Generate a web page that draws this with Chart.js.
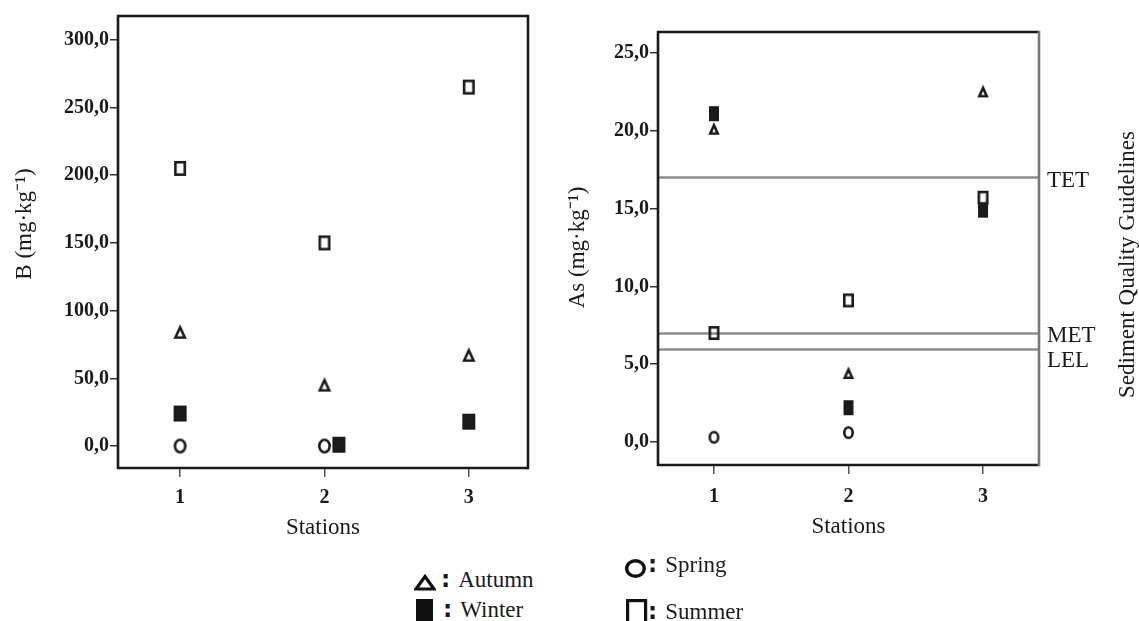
<!DOCTYPE html>
<html>
<head>
<meta charset="utf-8">
<script src="https://cdn.jsdelivr.net/npm/chart.js@4.4.1/dist/chart.umd.min.js"></script>
<style>
  body { margin: 0; background: #fff; }
  #page { position: relative; width: 1139px; height: 621px; overflow: hidden; font-family: "Liberation Serif", serif; color: #1a1a1a; }
  canvas { position: absolute; top: 0; }
  #chartB { left: 0; }
  #chartAs { left: 540px; }
  .leg { position: absolute; font-size: 23px; line-height: 23px; white-space: nowrap; }
  .leg b { font-family: "DejaVu Sans", sans-serif; font-weight: bold; font-size: 23px; margin-right: 8px; }
  .sym { position: absolute; }
</style>
</head>
<body>
<div id="page">
  <canvas id="chartB" width="560" height="560"></canvas>
  <canvas id="chartAs" width="599" height="560"></canvas>

  <!-- legenda -->
  <svg class="sym" style="left:414px;top:574px" width="22" height="17"><polygon points="11,2.5 20,15 2,15" fill="none" stroke="#111" stroke-width="3.2"/></svg>
  <div class="leg" style="left:441px;top:568px"><b>:</b>Autumn</div>
  <svg class="sym" style="left:416px;top:599px" width="18" height="22"><rect x="0" y="0" width="17" height="22" fill="#111"/></svg>
  <div class="leg" style="left:443px;top:598px"><b>:</b>Winter</div>
  <svg class="sym" style="left:624px;top:558px" width="23" height="21"><ellipse cx="11.5" cy="10.5" rx="8.8" ry="7.8" fill="none" stroke="#111" stroke-width="3.4"/></svg>
  <div class="leg" style="left:648px;top:553px"><b>:</b>Spring</div>
  <svg class="sym" style="left:626px;top:599px" width="22" height="24"><rect x="1.6" y="1.6" width="18" height="22" fill="none" stroke="#111" stroke-width="3.2"/></svg>
  <div class="leg" style="left:648px;top:600px"><b>:</b>Summer</div>
</div>

<script>
// Estações e escalas
const stations = [1, 2, 3];
const bTicks = [0, 50, 100, 150, 200, 250, 300];
const asTicks = [0, 5, 10, 15, 20, 25];

// B (mg/kg) por estação
const bAutumn = [84, 45, 67];
const bWinter = [24, 1, 18];
const bSpring = [0, 0, null];
const bSummer = [205, 150, 265];
const bWinterStation = [1, 2.1, 3]; // no original o ponto da estação 2 aparece deslocado

// As (mg/kg) por estação
const asAutumn = [20.1, 4.4, 22.5];
const asWinter = [21.1, 2.2, 14.9];
const asSpring = [0.3, 0.6, null];
const asSummer = [7.0, 9.1, 15.7];

// Sediment Quality Guidelines
const guideNames = ["TET", "MET", "LEL"];
const guideValues = [17, 7, 6];

const INK = "#1a1a1a";

// marcadores desenhados num canvas pequeno (são mais altos que largos no original)
function marker(kind, w, h) {
  const c = document.createElement("canvas");
  c.width = w + 4;
  c.height = h + 4;
  const g = c.getContext("2d");
  g.strokeStyle = INK;
  g.fillStyle = INK;
  g.lineWidth = 2.6;
  const l = 2, t = 2;
  if (kind === "square") {
    g.strokeRect(l + 1.3, t + 1.3, w - 2.6, h - 2.6);
  } else if (kind === "filled") {
    g.fillRect(l, t, w, h);
  } else if (kind === "triangle") {
    g.beginPath();
    g.moveTo(l + w / 2, t + 1.5);
    g.lineTo(l + w - 1.3, t + h - 1.3);
    g.lineTo(l + 1.3, t + h - 1.3);
    g.closePath();
    g.stroke();
  } else {
    g.beginPath();
    g.ellipse(l + w / 2, t + h / 2, w / 2 - 1.3, h / 2 - 1.3, 0, 0, Math.PI * 2);
    g.stroke();
  }
  return c;
}

function pts(xs, ys) {
  return ys.map((y, i) => (y == null ? null : { x: xs[i], y: y })).filter(Boolean);
}

function fmt(v) {
  return Number(v).toFixed(1).replace(".", ",");
}

function rotatedText(ctx, text, x, y) {
  ctx.save();
  ctx.translate(x, y);
  ctx.rotate(-Math.PI / 2);
  ctx.textAlign = "center";
  ctx.textBaseline = "middle";
  ctx.fillStyle = INK;
  ctx.font = "23px 'Liberation Serif'";
  ctx.fillText(text, 0, 0);
  ctx.restore();
}

// caixa em volta da área do gráfico + linhas de referência
const boxPlugin = {
  id: "box",
  beforeDatasetsDraw(chart, args, opts) {
    const { ctx, chartArea: a, scales } = chart;
    ctx.save();
    ctx.strokeStyle = "#8c8c8c";
    ctx.lineWidth = 2.6;
    (opts.lines || []).forEach((v) => {
      const py = Math.round(scales.y.getPixelForValue(v)) + 0.5;
      ctx.beginPath();
      ctx.moveTo(a.left, py);
      ctx.lineTo(a.right, py);
      ctx.stroke();
    });
    ctx.restore();
  },
  afterDraw(chart, args, opts) {
    const { ctx, chartArea: a, scales } = chart;
    ctx.save();
    ctx.lineWidth = 2.6;
    ctx.strokeStyle = INK;
    ctx.beginPath();
    ctx.moveTo(a.right, a.top);
    ctx.lineTo(a.left, a.top);
    ctx.lineTo(a.left, a.bottom);
    ctx.lineTo(a.right, a.bottom);
    ctx.stroke();
    ctx.strokeStyle = opts.rightColor || INK;
    ctx.beginPath();
    ctx.moveTo(a.right, a.top - 1.3);
    ctx.lineTo(a.right, a.bottom + 1.3);
    ctx.stroke();

    const names = opts.names || [];
    if (names.length) {
      ctx.fillStyle = INK;
      ctx.font = "23px 'Liberation Serif'";
      ctx.textBaseline = "middle";
      ctx.textAlign = "left";
      let prev = -100;
      (opts.lines || []).forEach((v, i) => {
        const py = Math.max(scales.y.getPixelForValue(v) + 3, prev + 25);
        ctx.fillText(names[i], a.right + 8, py);
        prev = py;
      });
    }
    ctx.restore();
    // título do eixo y (um pouco acima do centro, como no original)
    if (opts.yTitle) {
      rotatedText(ctx, opts.yTitle, scales.y.left + opts.yTitleX, (a.top + a.bottom) / 2 + opts.yTitleShift);
    }
    if (opts.sideTitle) {
      rotatedText(ctx, opts.sideTitle, a.right + 89, (a.top + a.bottom) / 2 + 16);
    }
  },
};

function makeChart(id, cfg) {
  const tickFont = { family: "Liberation Serif", size: 20, weight: "bold" };
  const titleFont = { family: "Liberation Serif", size: 23, lineHeight: 1 };
  const sets = [
    { label: "Winter", data: cfg.winter, pointStyle: marker("filled", cfg.mk.filled[0], cfg.mk.filled[1]) },
    { label: "Autumn", data: cfg.autumn, pointStyle: marker("triangle", cfg.mk.tri[0], cfg.mk.tri[1]) },
    { label: "Spring", data: cfg.spring, pointStyle: marker("circle", cfg.mk.circ[0], cfg.mk.circ[1]) },
    { label: "Summer", data: cfg.summer, pointStyle: marker("square", cfg.mk.sq[0], cfg.mk.sq[1]) },
  ];
  return new Chart(document.getElementById(id).getContext("2d"), {
    type: "scatter",
    data: { datasets: sets },
    options: {
      responsive: false,
      animation: false,
      devicePixelRatio: 1,
      layout: { padding: cfg.padding },
      plugins: {
        legend: { display: false },
        tooltip: { enabled: false },
        box: cfg.box,
      },
      scales: {
        x: {
          type: "linear",
          min: cfg.xMin,
          max: cfg.xMax,
          afterBuildTicks: (s) => { s.ticks = stations.map((v) => ({ value: v })); },
          afterFit: (s) => { s.height = cfg.xHeight; },
          ticks: { font: tickFont, color: INK, padding: cfg.xTickPad, callback: (v) => v },
          grid: { drawOnChartArea: false, drawTicks: true, tickLength: 9, color: "#555", lineWidth: 1.5 },
          border: { display: false },
          title: { display: true, text: "Stations", font: titleFont, color: INK, padding: { top: 0, bottom: cfg.xTitlePad } },
        },
        y: {
          min: cfg.yMin,
          max: cfg.yMax,
          afterBuildTicks: (s) => { s.ticks = cfg.yTicks.map((v) => ({ value: v })); },
          afterFit: (s) => { s.width = cfg.yWidth; },
          ticks: { font: tickFont, color: INK, padding: 1, callback: fmt },
          grid: { drawOnChartArea: false, drawTicks: true, tickLength: 8, color: "#333", lineWidth: 1.5 },
          border: { display: false },
          title: { display: false },
        },
      },
    },
    plugins: [boxPlugin],
  });
}

// Gráfico B
makeChart("chartB", {
  winter: pts(bWinterStation, bWinter),
  autumn: pts(stations, bAutumn),
  spring: pts(stations, bSpring),
  summer: pts(stations, bSummer),
  mk: { filled: [13, 16], tri: [12, 13], circ: [13, 15], sq: [12, 15] },
  padding: { top: 16, right: 32, left: 0, bottom: 0 },
  xMin: 0.57, xMax: 3.41, xHeight: 92, xTitlePad: 21, xTickPad: 9,
  yMin: -16.2, yMax: 317.5, yTicks: bTicks, yWidth: 118,
  box: { yTitle: "B (mg·kg⁻¹)", yTitleX: 25, yTitleShift: -18 },
});

// Gráfico As
makeChart("chartAs", {
  winter: pts(stations, asWinter),
  autumn: pts(stations, asAutumn),
  spring: pts(stations, asSpring),
  summer: pts(stations, asSummer),
  mk: { filled: [10, 15], tri: [10, 11], circ: [11, 13], sq: [11, 14] },
  padding: { top: 32, right: 100, left: 0, bottom: 0 },
  xMin: 0.584, xMax: 3.416, xHeight: 95, xTitlePad: 22, xTickPad: 11,
  yMin: -1.48, yMax: 26.35, yTicks: asTicks, yWidth: 118,
  box: {
    yTitle: "As (mg·kg⁻¹)", yTitleX: 38, yTitleShift: -1,
    lines: guideValues, names: guideNames, rightColor: "#777",
    sideTitle: "Sediment Quality Guidelines",
  },
});
</script>
</body>
</html>
